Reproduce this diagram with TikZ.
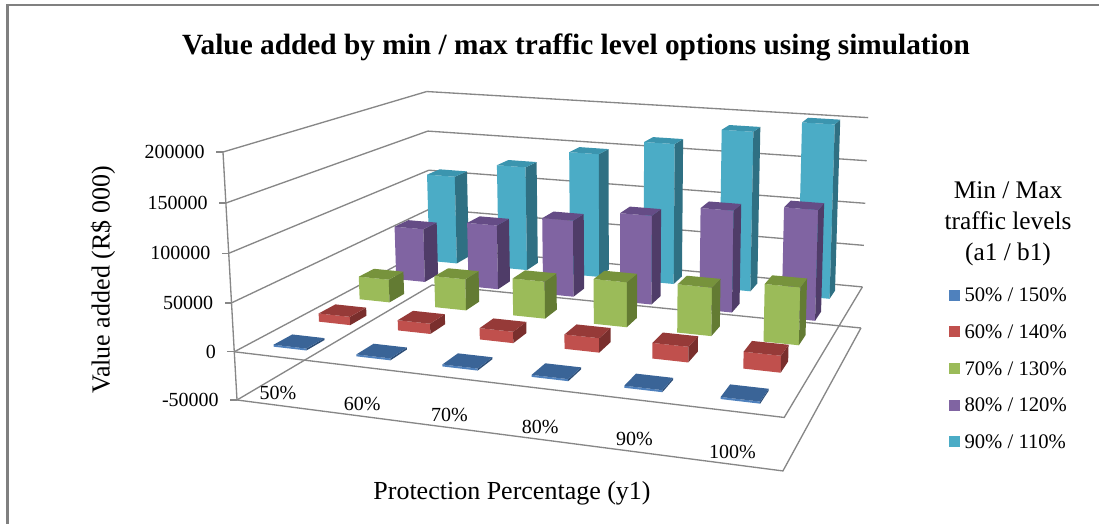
\documentclass[tikz,border=0pt]{standalone}
\usepackage{fontspec}
\setmainfont{Liberation Serif}
\usetikzlibrary{calc}

% series colours: front, top, side
\definecolor{cyanF}{HTML}{4BACC6}
\definecolor{cyanT}{HTML}{3B95AF}
\definecolor{cyanS}{HTML}{2F7083}
\definecolor{purpleF}{HTML}{8064A2}
\definecolor{purpleT}{HTML}{654C86}
\definecolor{purpleS}{HTML}{4F3C68}
\definecolor{greenF}{HTML}{9BBB59}
\definecolor{greenT}{HTML}{77933C}
\definecolor{greenS}{HTML}{637B33}
\definecolor{redF}{HTML}{C0504D}
\definecolor{redT}{HTML}{963A38}
\definecolor{redS}{HTML}{7A2F2D}
\definecolor{blueF}{HTML}{4F81BD}
\definecolor{blueT}{HTML}{3A6497}
\definecolor{blueS}{HTML}{2D4E77}
\definecolor{wallgray}{HTML}{878787}

% point of the chart box: category u, depth w, height t (all 0..1)
\newcommand{\pp}[3]{({chartx(#1,#2,#3)},{charty(#1,#2,#3)})}

% one column: #1 category, #2 series, #3 value in thousands, #4 colour
\newcommand{\colbar}[4]{%
  \pgfmathsetmacro{\uL}{(#1+0.5)/6-0.0333}%
  \pgfmathsetmacro{\uR}{(#1+0.5)/6+0.0333}%
  \pgfmathsetmacro{\wF}{(#2+0.5)/5-0.04}%
  \pgfmathsetmacro{\wB}{(#2+0.5)/5+0.04}%
  \pgfmathsetmacro{\tT}{(#3+50)/250}%
  \fill[#4F] \pp{\uL}{\wF}{0.2} -- \pp{\uR}{\wF}{0.2} -- \pp{\uR}{\wF}{\tT} -- \pp{\uL}{\wF}{\tT} -- cycle;
  \fill[#4S] \pp{\uR}{\wF}{0.2} -- \pp{\uR}{\wB}{0.2} -- \pp{\uR}{\wB}{\tT} -- \pp{\uR}{\wF}{\tT} -- cycle;
  \fill[#4T] \pp{\uL}{\wF}{\tT} -- \pp{\uR}{\wF}{\tT} -- \pp{\uR}{\wB}{\tT} -- \pp{\uL}{\wB}{\tT} -- cycle;
}

\begin{document}
\begin{tikzpicture}[x=0.75pt,y=-0.75pt,
  declare function={
    chartd(\x,\y,\z)=1-0.108*\x+0.2925*\y-0.035*\z;
    chartx(\x,\y,\z)=(237+461.4*\x+321.4*\y-21.8*\z)/chartd(\x,\y,\z);
    charty(\x,\y,\z)=(400+20.1*\x-31.6*\y-253.3*\z)/chartd(\x,\y,\z);
  },
  wall/.style={draw=wallgray,line width=1pt},
  frame/.style={draw=wallgray!95!black,line width=1.6pt},
  ticklab/.style={anchor=east,inner sep=0pt,xshift=-8pt,font=\fontsize{15}{18}\selectfont},
  catlab/.style={anchor=south,inner sep=0pt,yshift=4pt,font=\fontsize{15}{18}\selectfont},
  axtitle/.style={inner sep=0pt,font=\fontsize{19.5}{23}\selectfont},
  keybox/.style={minimum size=8.25pt,inner sep=0pt},
  legtxt/.style={anchor=west,inner sep=0pt,xshift=3pt,font=\fontsize{15.5}{18}\selectfont}]

\useasboundingbox (0,0) rectangle (1099,524);
\draw[frame] (7.5,524) -- (7.5,5) -- (1099,5);

\node[font=\fontsize{22}{26}\selectfont\bfseries] (title) at (576,47)
  {Value added by min / max traffic level options using simulation};

% side wall, back wall and axis ticks
\foreach \v/\lab [count=\i] in {-50/-50000,0/0,50/50000,100/100000,150/150000,200/200000}{
  \pgfmathsetmacro{\tv}{(\v+50)/250}
  \draw[wall] \pp{0}{1}{\tv} -- \pp{1}{1}{\tv};
  \draw[wall] \pp{0}{0}{\tv} -- \pp{0}{1}{\tv};
  \draw[wall] \pp{0}{0}{\tv} -- ++(-7,0) node[ticklab] (ytick\i) {\lab};
}
\draw[wall] \pp{0}{0}{0} -- \pp{0}{0}{1};
% floor and zero level
\draw[wall] \pp{0}{0}{0} -- \pp{1}{0}{0} -- \pp{1}{1}{0};
\draw[wall] \pp{0}{0}{0.2} -- \pp{1}{0}{0.2} -- \pp{1}{1}{0.2};

% columns, back row first
\foreach \v [count=\k from 0] in {108,126,148,166,186,200} {\colbar{\k}{4}{\v}{cyan}}
\foreach \v [count=\k from 0] in {63,75,88,101,114,122} {\colbar{\k}{3}{\v}{purple}}
\foreach \v [count=\k from 0] in {26,35,41,49,52,61} {\colbar{\k}{2}{\v}{green}}
\foreach \v [count=\k from 0] in {9,11,12,15,16,17} {\colbar{\k}{1}{\v}{red}}
\foreach \v [count=\k from 0] in {2,2,2,2,2,2} {\colbar{\k}{0}{\v}{blue}}

\foreach \lab [count=\k from 0] in {50,60,70,80,90,100}{
  \pgfmathsetmacro{\uc}{(\k+0.5)/6}
  \node[catlab] (cat\k) at ({chartx(\uc,0,0)},{charty(\uc,0,0)}) {\lab\%};
}

\node[axtitle,rotate=90] (ytitle) at (103,280) {Value added (R\$ 000)};
\node[axtitle] (xtitle) at (512,493) {Protection Percentage (y1)};

% legend
\node[align=center,inner sep=0pt,font=\fontsize{19}{23.3}\selectfont] (legtitle) at (1008,224)
  {Min / Max\\traffic levels\\(a1 / b1)};
\node[keybox,fill=blueF] (key1) at (954.5,295) {};
\node[keybox,fill=redF] (key2) at (954.5,331.7) {};
\node[keybox,fill=greenF] (key3) at (954.5,368.3) {};
\node[keybox,fill=purpleF] (key4) at (954.5,405) {};
\node[keybox,fill=cyanF] (key5) at (954.5,441.7) {};
\node[legtxt] (leg1) at (key1.east) {50\% / 150\%};
\node[legtxt] (leg2) at (key2.east) {60\% / 140\%};
\node[legtxt] (leg3) at (key3.east) {70\% / 130\%};
\node[legtxt] (leg4) at (key4.east) {80\% / 120\%};
\node[legtxt] (leg5) at (key5.east) {90\% / 110\%};
\end{tikzpicture}
\end{document}
